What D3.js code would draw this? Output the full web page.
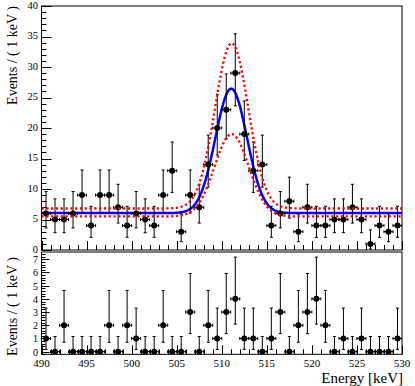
<!DOCTYPE html>
<html><head><meta charset="utf-8">
<script src="https://cdn.jsdelivr.net/npm/d3@7"></script>
<style>
html,body{margin:0;padding:0;background:#fff;}
svg{display:block;}
</style></head>
<body>
<svg id="c" width="415" height="386" font-family="'Liberation Serif', 'DejaVu Serif', serif"></svg>
<script>
// ---- data ----
const binCenters = [490.5,491.5,492.5,493.5,494.5,495.5,496.5,497.5,498.5,499.5,
  500.5,501.5,502.5,503.5,504.5,505.5,506.5,507.5,508.5,509.5,
  510.5,511.5,512.5,513.5,514.5,515.5,516.5,517.5,518.5,519.5,
  520.5,521.5,522.5,523.5,524.5,525.5,526.5,527.5,528.5,529.5];
const topCounts = [6,5,5,6,9,4,9,9,7,4,
  6,5,4,9,13,3,9,7,14,20,
  23,29,19,13,14,4,6,8,3,7,
  4,4,5,5,7,5,1,4,3,4];
const bottomCounts = [1,0,2,0,0,0,0,2,0,2,
  1,0,0,2,0,0,3,0,2,1,
  3,4,1,1,0,1,3,0,2,3,
  4,2,0,1,0,1,0,0,0,1];
// fit curves: [constant, amplitude, mean, sigma]
const fitCentral = [6.05, 20.4, 511.05, 1.75];
const fitUpper   = [6.8, 27.1, 511.1, 1.85];
const fitLower   = [5.5, 13.5, 511.1, 1.9];
const xTicks = [490,495,500,505,510,515,520,525,530];
const yTicksTop = [0,5,10,15,20,25,30,35,40];
const yTicksBottom = [0,1,2,3,4,5,6,7];

// ---- poisson interval (RooFit style) ----
function poisCdf(n, mu){ let t=Math.exp(-mu), s=t; for(let k=1;k<=n;k++){t*=mu/k;s+=t;} return s; }
function bisect(f, lo, hi){ for(let i=0;i<80;i++){const m=(lo+hi)/2; if(f(m)>0) lo=m; else hi=m;} return (lo+hi)/2; }
function poisInterval(n){
  const a = 0.158655;
  if(n===0) return [0, -Math.log(1-0.682689)];
  const up = bisect(mu => poisCdf(n,mu)-a, n, n+10*Math.sqrt(n)+10);
  const lo = bisect(mu => (1-poisCdf(n-1,mu)) < a ? 1 : -1, 0, n);
  return [lo, up];
}

const svg = d3.select("#c");
const X0 = 41.5, X1 = 402;
const x = d3.scaleLinear().domain([490,530]).range([X0,X1]);
const yTop = d3.scaleLinear().domain([0,40]).range([250,6]);
const yBot = d3.scaleLinear().domain([-0.2,7.55]).range([354.3,252]);

function frame(top, bottom){
  svg.append("rect").attr("x",X0).attr("y",top).attr("width",X1-X0).attr("height",bottom-top)
    .attr("fill","none").attr("stroke","#000").attr("stroke-width",1);
}
function yAxis(y, ticks, minorStep, majorLen, minorLen, fs, dy){
  const [d0,d1] = y.domain();
  const g = svg.append("g");
  const minors = d3.range(Math.ceil(d0/minorStep)*minorStep, d1+1e-9, minorStep);
  minors.forEach(v=>{
    const isMajor = ticks.some(t=>Math.abs(t-v)<1e-6);
    g.append("line").attr("x1",X0).attr("x2",X0+(isMajor?majorLen:minorLen))
      .attr("y1",Math.round(y(v))+0.5).attr("y2",Math.round(y(v))+0.5).attr("stroke","#000").attr("stroke-width",1);
  });
  ticks.forEach(t=>{
    g.append("text").attr("x",38).attr("y",y(t)).attr("dy",dy).attr("text-anchor","end")
      .attr("font-size",fs).text(t);
  });
}
function xAxisTicks(yPix, majorLen, minorLen){
  const g = svg.append("g");
  d3.range(490,531,1).forEach(v=>{
    const isMajor = xTicks.includes(v);
    const px = Math.round(x(v))+0.5;
    g.append("line").attr("x1",px).attr("x2",px).attr("y1",yPix).attr("y2",yPix-(isMajor?majorLen:minorLen))
      .attr("stroke","#000").attr("stroke-width",1);
  });
}

function drawPoints(counts, y, clipId){
  const g = svg.append("g").attr("clip-path",`url(#${clipId})`);
  counts.forEach((n,i)=>{
    const cx = x(binCenters[i]), cy = y(n);
    const [lo,up] = poisInterval(n);
    const yl = y(lo), yu = y(up);
    const xl = x(binCenters[i]-0.5), xr = x(binCenters[i]+0.5);
    const s = "#000";
    g.append("line").attr("x1",cx).attr("x2",cx).attr("y1",yl).attr("y2",yu).attr("stroke",s).attr("stroke-width",1);
    g.append("line").attr("x1",cx-1.5).attr("x2",cx+1.5).attr("y1",yu).attr("y2",yu).attr("stroke",s).attr("stroke-width",1);
    if(n>0) g.append("line").attr("x1",cx-1.5).attr("x2",cx+1.5).attr("y1",yl).attr("y2",yl).attr("stroke",s).attr("stroke-width",1);
    g.append("line").attr("x1",xl).attr("x2",xr).attr("y1",cy).attr("y2",cy).attr("stroke",s).attr("stroke-width",1);
    g.append("line").attr("x1",xl).attr("x2",xl).attr("y1",cy-1.5).attr("y2",cy+1.5).attr("stroke",s).attr("stroke-width",1);
    g.append("line").attr("x1",xr).attr("x2",xr).attr("y1",cy-1.5).attr("y2",cy+1.5).attr("stroke",s).attr("stroke-width",1);
    g.append("circle").attr("cx",cx).attr("cy",cy).attr("r",3).attr("fill","#000");
  });
}

// clip paths
const defs = svg.append("defs");
defs.append("clipPath").attr("id","clipTop").append("rect").attr("x",X0).attr("y",6).attr("width",X1-X0).attr("height",244);
defs.append("clipPath").attr("id","clipBot").append("rect").attr("x",X0).attr("y",252).attr("width",X1-X0).attr("height",102.3);

// ---- top panel ----
frame(6, 250);
yAxis(yTop, yTicksTop, 1, 10, 5, "10.5px", "0.25em");
xAxisTicks(250, 9, 5);

const gauss = p => e => p[0] + p[1]*Math.exp(-0.5*Math.pow((e-p[2])/p[3],2));
const es = d3.range(490, 530.001, 0.05);
const line = f => d3.line().x(e=>x(e)).y(e=>yTop(f(e)))(es);
const gc = svg.append("g").attr("clip-path","url(#clipTop)");
gc.append("path").attr("d",line(gauss(fitCentral))).attr("fill","none").attr("stroke","#0000ff").attr("stroke-width",2.5);
drawPoints(topCounts, yTop, "clipTop");
const gr = svg.append("g").attr("clip-path","url(#clipTop)");
[fitUpper, fitLower].forEach(p=>{
  gr.append("path").attr("d",line(gauss(p))).attr("fill","none").attr("stroke","#ff0000")
    .attr("stroke-width",2.3).attr("stroke-dasharray","2.2,2.6");
});

svg.append("text").attr("transform","translate(17,6) rotate(-90)").attr("text-anchor","end")
  .attr("font-size","14px").text("Events / ( 1 keV )");

// ---- bottom panel ----
frame(252, 354.3);
yAxis(yBot, yTicksBottom, 0.2, 8, 4, "10px", "0.4em");
xAxisTicks(354.3, 9, 5);
drawPoints(bottomCounts, yBot, "clipBot");
xTicks.forEach(t=>{
  svg.append("text").attr("x",x(t)).attr("y",367).attr("text-anchor","middle").attr("font-size","11px").text(t);
});
svg.append("text").attr("transform","translate(17,257) rotate(-90)").attr("text-anchor","end")
  .attr("font-size","14px").text("Events / ( 1 keV )");
svg.append("text").attr("x",403).attr("y",383).attr("text-anchor","end").attr("font-size","15px").text("Energy [keV]");
</script>
</body></html>
